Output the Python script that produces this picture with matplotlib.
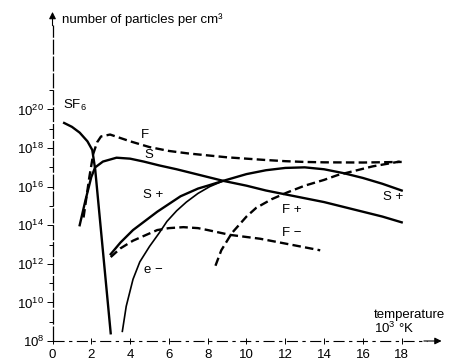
import numpy as np
import matplotlib
matplotlib.use('Agg')
import matplotlib.pyplot as plt

plt.rcParams['font.family'] = ['Liberation Sans', 'DejaVu Sans']
plt.rcParams['mathtext.fontset'] = 'custom'
plt.rcParams['mathtext.rm'] = 'Liberation Sans'
plt.rcParams['mathtext.it'] = 'Liberation Sans:italic'

# curves: x in 10^3 K, y as log10(particles per cm3)
sf6_x = [0.6, 1.0, 1.4, 1.8, 2.05, 2.2, 3.0]
sf6_y = [19.3, 19.1, 18.8, 18.35, 17.9, 16.9, 8.4]

s_x = [1.4, 1.7, 2.0, 2.2, 2.6, 3.3, 4.0, 4.7, 5.5, 6.4, 7.0, 8.0, 8.8, 10, 11, 12, 13, 14, 15, 16, 17, 18]
s_y = [14.0, 15.3, 16.5, 17.0, 17.3, 17.5, 17.45, 17.3, 17.1, 16.9, 16.75, 16.5, 16.3, 16.05, 15.8, 15.6, 15.4, 15.2, 14.95, 14.7, 14.45, 14.15]

f_x = [1.6, 1.9, 2.1, 2.3, 2.5, 2.97, 4, 5, 6, 7, 8, 9, 10, 11, 12, 13, 14, 16, 18]
f_y = [14.4, 16.5, 17.7, 18.3, 18.6, 18.7, 18.35, 18.05, 17.85, 17.72, 17.62, 17.52, 17.45, 17.38, 17.32, 17.28, 17.26, 17.25, 17.28]

splus_x = [3.0, 3.5, 4.15, 5.4, 6.6, 7.5, 8.0, 8.8, 10, 11, 12, 13, 14, 15, 16, 17, 18]
splus_y = [12.5, 13.1, 13.75, 14.7, 15.5, 15.9, 16.05, 16.3, 16.65, 16.85, 16.97, 17.0, 16.9, 16.7, 16.45, 16.15, 15.8]

e_x = [3.6, 3.8, 4.15, 4.5, 5.0, 5.5, 5.9, 6.4, 6.9, 7.5, 8.1, 8.8]
e_y = [8.5, 9.8, 11.2, 12.1, 12.9, 13.6, 14.2, 14.75, 15.2, 15.65, 16.0, 16.3]

fplus_x = [8.4, 8.7, 9.25, 10.0, 10.5, 11.3, 12.1, 13, 14, 14.7, 15.3, 16.5, 17.9]
fplus_y = [11.9, 12.7, 13.6, 14.45, 14.9, 15.35, 15.7, 16.05, 16.35, 16.6, 16.75, 17.05, 17.3]

fminus_x = [3.0, 3.5, 4.15, 5.4, 6.0, 6.75, 7.5, 8.0, 9.15, 10.7, 12.0, 13.8]
fminus_y = [12.35, 12.8, 13.2, 13.75, 13.85, 13.9, 13.85, 13.75, 13.5, 13.3, 13.05, 12.7]

x_ticks = [0, 2, 4, 6, 8, 10, 12, 14, 16, 18]
y_exps = [8, 10, 12, 14, 16, 18, 20]

fig = plt.figure(figsize=(4.55, 3.64), dpi=100)
ax = fig.add_axes([0.1154, 0.0632, 0.8655, 0.917])
ax.set_yscale('log')
ax.set_xlim(0, 20.3)
ax.set_ylim(1e8, 10 ** 25.3)
for sp in ax.spines.values():
    sp.set_visible(False)

dash = (3.6, 1.8)
lw = 1.7

def pw(v):
    return 10.0 ** np.array(v)

ax.plot(sf6_x, pw(sf6_y), color='black', lw=lw)
ax.plot(s_x, pw(s_y), color='black', lw=lw)
ax.plot(f_x, pw(f_y), color='black', lw=lw, dashes=dash)
ax.plot(splus_x, pw(splus_y), color='black', lw=lw)
ax.plot(e_x, pw(e_y), color='black', lw=1.2)
ax.plot(fplus_x, pw(fplus_y), color='black', lw=lw, dashes=dash)
ax.plot(fminus_x, pw(fminus_y), color='black', lw=lw, dashes=dash)

# axes drawn by hand, as in the sketch
ax.plot([0, 19.3], [1e8, 1e8], color='black', lw=0.8, dashes=(10, 4, 3, 4), clip_on=False)
ax.annotate('', xy=(20.2, 1e8), xytext=(19.0, 1e8),
            arrowprops=dict(arrowstyle='-|>', color='black', lw=0.8, mutation_scale=10), annotation_clip=False)
ax.plot([0, 0], [1e8, 10 ** 24.4], color='black', lw=0.9, dashes=(12, 1.5), clip_on=False)
ax.annotate('', xy=(0, 10 ** 25.2), xytext=(0, 10 ** 24.2),
            arrowprops=dict(arrowstyle='-|>', color='black', lw=0.8, mutation_scale=10), annotation_clip=False)

ax.set_xticks(x_ticks)
ax.set_xticklabels([str(t) for t in x_ticks], fontsize=9.5)
ax.set_yticks([10.0 ** e for e in y_exps])
ax.set_yticklabels([r'$\mathregular{10^{%d}}$' % e for e in y_exps], fontsize=9.5)
ax.set_yticks([10.0 ** e for e in range(9, 22, 2)], minor=True)
ax.yaxis.set_minor_formatter(matplotlib.ticker.NullFormatter())
ax.tick_params(axis='x', direction='inout', length=5, width=0.7, pad=3)
ax.tick_params(axis='y', which='major', direction='out', length=4, width=0.7, pad=2)
ax.tick_params(axis='y', which='minor', direction='out', length=3, width=0.7)

fs = 9.5
ax.text(1.15, 10 ** 20.2, r'$\mathregular{SF_6}$', fontsize=fs, ha='center', va='center')
ax.text(4.77, 10 ** 18.67, 'F', fontsize=fs, ha='center', va='center')
ax.text(4.97, 10 ** 17.64, 'S', fontsize=fs, ha='center', va='center')
ax.text(5.2, 10 ** 15.56, 'S +', fontsize=fs, ha='center', va='center')
ax.text(5.2, 10 ** 11.68, 'e \u2212', fontsize=fs, ha='center', va='center')
ax.text(12.35, 10 ** 14.79, 'F +', fontsize=fs, ha='center', va='center')
ax.text(12.35, 10 ** 13.6, 'F \u2212', fontsize=fs, ha='center', va='center')
ax.text(17.55, 10 ** 15.46, 'S +', fontsize=fs, ha='center', va='center')
ax.text(16.55, 10 ** 9.35, 'temperature', fontsize=fs, ha='left', va='center')
ax.text(16.55, 10 ** 8.65, r'$\mathregular{10^3}$ °K', fontsize=fs, ha='left', va='center')
ax.text(0.5, 10 ** 24.65, 'number of particles per cm³', fontsize=fs, ha='left', va='center')

fig.savefig('out.png', dpi=100)
